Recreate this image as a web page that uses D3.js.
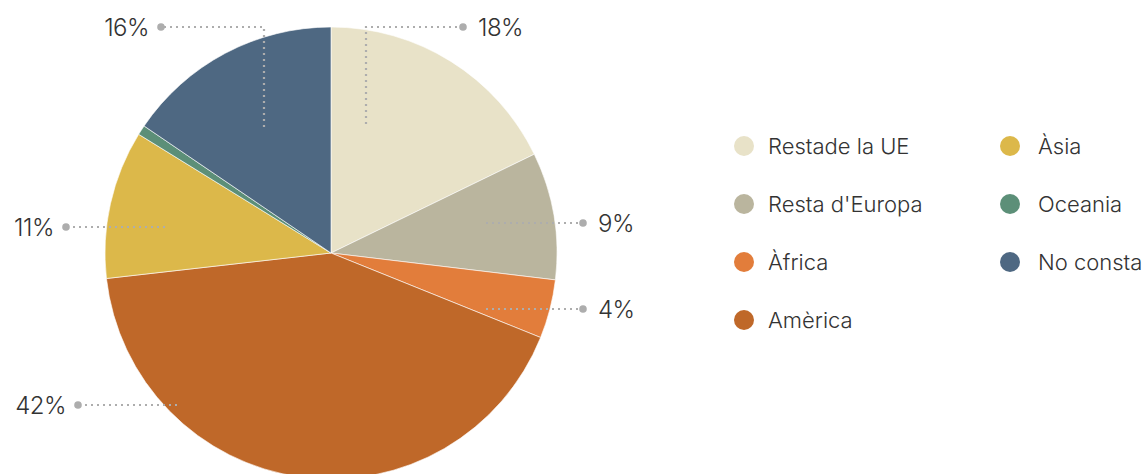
<!DOCTYPE html>
<html>
<head>
<meta charset="utf-8">
<script src="https://cdn.jsdelivr.net/npm/d3@7"></script>
<style>
  body { margin: 0; background: #fff; }
  svg { display: block; font-family: Inter, Roboto, sans-serif; }
  .lbl { font-size: 24px; font-weight: 300; fill: #333; letter-spacing: -0.5px; }
  .leg { font-size: 22px; font-weight: 300; fill: #333; }
</style>
</head>
<body>
<svg id="chart" width="1147" height="474"></svg>
<script>
// regions of origin and share (%)
const categories = ["Restade la UE", "Resta d'Europa", "Àfrica", "Amèrica", "Àsia", "Oceania", "No consta"];
const values = [17.8, 9.1, 4.2, 42.1, 10.6, 0.7, 15.5];
const colors = ["#e8e2c8", "#bab59e", "#e27d3b", "#bf6829", "#dcb84a", "#5c8f78", "#4e6882"];

// leader line layout (relative to pie centre): inner point, outer dot
const labelLayout = {
  "Restade la UE": { kind: "elbow", ix: 35, iy: -129, ox: 132 },
  "Resta d'Europa": { kind: "h", ix: 155, iy: -30, ox: 252 },
  "Àfrica": { kind: "h", ix: 155, iy: 56, ox: 252 },
  "Amèrica": { kind: "h", ix: -154, iy: 152, ox: -253 },
  "Àsia": { kind: "h", ix: -166, iy: -26, ox: -265 },
  "No consta": { kind: "elbow", ix: -67, iy: -126, ox: -170 }
};

const svg = d3.select("#chart");
const cx = 331, cy = 253, R = 226;

const data = categories.map((c, i) => ({ name: c, value: values[i], color: colors[i] }));

const pie = d3.pie().sort(null).value(d => d.value);
const arc = d3.arc().innerRadius(0).outerRadius(R);

const g = svg.append("g").attr("transform", "translate(" + cx + "," + cy + ")");

g.selectAll("path.slice")
  .data(pie(data))
  .join("path")
  .attr("class", "slice")
  .attr("d", arc)
  .attr("fill", d => d.data.color)
  .attr("stroke", "#fff")
  .attr("stroke-width", 0.6);

// labels with dotted leaders
const lineColor = "#adadad";
data.forEach(d => {
  const L = labelLayout[d.name];
  if (!L) return;
  let pts, ly;
  if (L.kind === "elbow") {
    ly = -R;
    pts = [[L.ix, L.iy], [L.ix, ly], [L.ox, ly]];
  } else {
    ly = L.iy;
    pts = [[L.ix, ly], [L.ox, ly]];
  }
  g.append("path")
    .attr("d", d3.line()(pts))
    .attr("fill", "none")
    .attr("stroke", lineColor)
    .attr("stroke-width", 2.2)
    .attr("stroke-dasharray", "2,4");
  g.append("circle")
    .attr("cx", L.ox).attr("cy", ly).attr("r", 3.8)
    .attr("fill", lineColor);
  const right = L.ox > 0;
  g.append("text")
    .attr("class", "lbl")
    .attr("x", right ? L.ox + 15 : L.ox - 12)
    .attr("y", ly)
    .attr("dy", "0.36em")
    .attr("text-anchor", right ? "start" : "end")
    .text(Math.round(d.value) + "%");
});

// legend, two columns
const legend = svg.append("g");
const colX = [744, 1010], rowY = [146, 204, 262, 320];
data.forEach((d, i) => {
  const col = i < 4 ? 0 : 1, row = i < 4 ? i : i - 4;
  const item = legend.append("g")
    .attr("transform", "translate(" + colX[col] + "," + rowY[row] + ")");
  item.append("circle").attr("r", 10).attr("fill", d.color);
  item.append("text")
    .attr("class", "leg")
    .attr("x", col === 0 ? 24 : 28)
    .attr("dy", "0.36em")
    .text(d.name);
});
</script>
</body>
</html>
